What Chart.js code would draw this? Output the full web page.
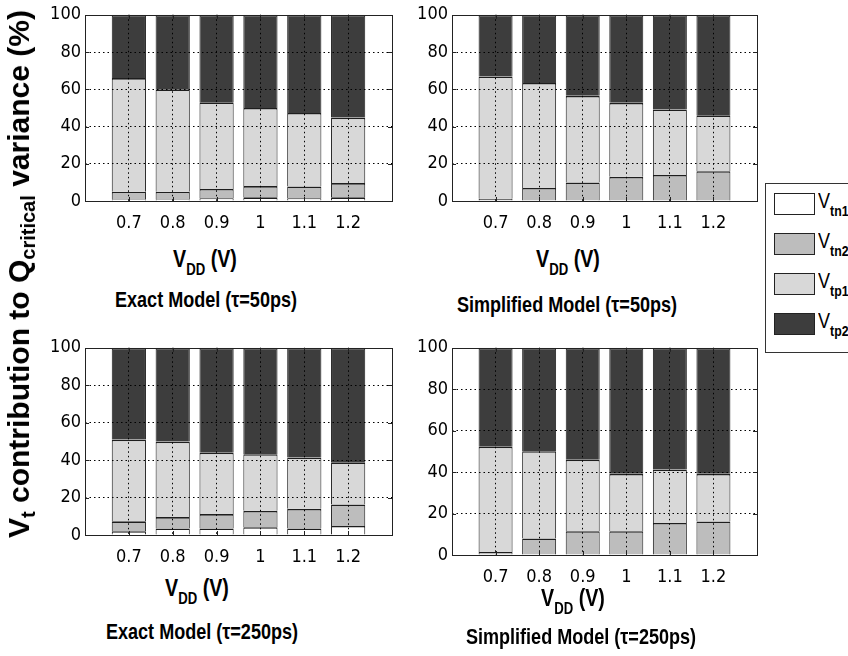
<!DOCTYPE html>
<html>
<head>
<meta charset="utf-8">
<script src="https://cdn.jsdelivr.net/npm/chart.js@4/dist/chart.umd.min.js"></script>
<style>
  body { margin: 0; background: #fff; width: 848px; height: 656px; position: relative; overflow: hidden; }
  canvas { position: absolute; }
  .lbl { position: absolute; transform: translate(-50%, -50%) scaleX(0.82); white-space: nowrap;
         font-family: 'Liberation Sans', Arial, sans-serif; font-weight: bold; color: #000; }
  .vdd { font-size: 24px; }
  .vdd sub { font-size: 16px; vertical-align: -8px; }
  .ttl { font-size: 22px; }
  #ylab { position: absolute; left: 21px; top: 274px; transform: translate(-50%, -50%) rotate(-90deg);
          white-space: nowrap; font-family: 'Liberation Sans', Arial, sans-serif; font-weight: bold; font-size: 30px; }
  #ylab sub { font-size: 20px; vertical-align: -6px; }
  #legend { position: absolute; left: 765px; top: 183px; width: 90px; height: 168px; border: 1px solid #333; background: #fff; }
  .item { position: absolute; left: 8px; height: 22px; }
  .sw { position: absolute; left: 0; top: 0; width: 39px; height: 20px; border: 1px solid #222; }
  .itxt { position: absolute; left: 44px; top: -5px; font-family: 'Liberation Sans', Arial, sans-serif;
          font-size: 22px; white-space: nowrap; transform: scaleX(0.82); transform-origin: left top; }
  .itxt sub { font-size: 15px; vertical-align: -8px; font-weight: bold; }
</style>
</head>
<body>
<canvas id="c1" width="361" height="231" style="left:35px; top:0px;"></canvas>
<canvas id="c2" width="359" height="231" style="left:402px; top:0px;"></canvas>
<canvas id="c3" width="361" height="232" style="left:35px; top:333px;"></canvas>
<canvas id="c4" width="359" height="252" style="left:402px; top:333px;"></canvas>

<div id="ylab">V<sub>t</sub> contribution to Q<sub>critical</sub> variance (%)</div>

<div class="lbl vdd" style="left:205px; top:262px;">V<sub>DD</sub> (V)</div>
<div class="lbl ttl" style="left:206px; top:300px;">Exact Model (τ=50ps)</div>
<div class="lbl vdd" style="left:568px; top:262px;">V<sub>DD</sub> (V)</div>
<div class="lbl ttl" style="left:567px; top:305px;">Simplified Model (τ=50ps)</div>
<div class="lbl vdd" style="left:197px; top:591px;">V<sub>DD</sub> (V)</div>
<div class="lbl ttl" style="left:202px; top:632px;">Exact Model (τ=250ps)</div>
<div class="lbl vdd" style="left:573px; top:601px;">V<sub>DD</sub> (V)</div>
<div class="lbl ttl" style="left:581px; top:637px;">Simplified Model (τ=250ps)</div>

<div id="legend"></div>

<script>
// supply voltage (V) on the x axis
const vdd = [0.7, 0.8, 0.9, 1, 1.1, 1.2];
const yTicks = [0, 20, 40, 60, 80, 100];

const seriesNames = ['tn1', 'tn2', 'tp1', 'tp2'];
const seriesColors = ['#ffffff', '#bdbdbd', '#d8d8d8', '#3d3d3d'];

// Exact Model (tau = 50ps)
const exact50_tn1 = [1, 1, 1.5, 2, 1.5, 2];
const exact50_tn2 = [4, 4, 5, 6, 6.3, 7.6];
const exact50_tp1 = [61, 55, 46.5, 42, 39.5, 35.2];
const exact50_tp2 = [34, 40, 47, 50, 52.7, 55.2];

// Simplified Model (tau = 50ps)
const simp50_tn1 = [0, 0, 0, 0, 0, 0];
const simp50_tn2 = [1.2, 7, 10, 13, 14, 16];
const simp50_tp1 = [65.7, 56.4, 46.5, 39.7, 35.2, 30];
const simp50_tp2 = [33.1, 36.6, 43.5, 47.3, 50.8, 54];

// Exact Model (tau = 250ps)
const exact250_tn1 = [2, 3.5, 3.5, 4.2, 3.5, 4.8];
const exact250_tn2 = [5.3, 6.1, 7.7, 8.7, 10.5, 11.5];
const exact250_tp1 = [43.7, 40.3, 32.8, 30.3, 27.4, 22.5];
const exact250_tp2 = [49, 50.1, 56, 56.8, 58.6, 61.2];

// Simplified Model (tau = 250ps)
const simp250_tn1 = [0, 0, 0, 0, 0, 0];
const simp250_tn2 = [1.4, 8, 11.5, 11.5, 15.5, 16.2];
const simp250_tp1 = [50.9, 42.1, 34.5, 27.7, 25.8, 23];
const simp250_tp2 = [47.7, 49.9, 54, 60.8, 58.7, 60.8];

const tickFont = { family: "'DejaVu Sans Condensed', 'Liberation Sans', sans-serif", size: 18 };

// box round the plot and small inward ticks, matlab style
const boxPlugin = {
  id: 'box',
  afterDraw(chart) {
    const a = chart.chartArea, ctx = chart.ctx;
    ctx.save();
    ctx.strokeStyle = '#222';
    ctx.lineWidth = 1;
    ctx.strokeRect(Math.round(a.left) + 0.5, Math.round(a.top) + 0.5, Math.round(a.right - a.left), Math.round(a.bottom - a.top));
    ctx.beginPath();
    chart.scales.x.ticks.forEach(t => {
      const px = Math.round(chart.scales.x.getPixelForValue(t.value)) + 0.5;
      ctx.moveTo(px, a.bottom); ctx.lineTo(px, a.bottom - 4);
      ctx.moveTo(px, a.top); ctx.lineTo(px, a.top + 4);
    });
    chart.scales.y.ticks.forEach(t => {
      const py = Math.round(chart.scales.y.getPixelForValue(t.value)) + 0.5;
      ctx.moveTo(a.left, py); ctx.lineTo(a.left + 4, py);
      ctx.moveTo(a.right, py); ctx.lineTo(a.right - 4, py);
    });
    ctx.stroke();
    ctx.restore();
  }
};

function grafico(id, tn1, tn2, tp1, tp2) {
  const valores = [tn1, tn2, tp1, tp2];
  new Chart(document.getElementById(id), {
    type: 'bar',
    data: {
      labels: vdd,
      datasets: valores.map((d, i) => ({
        label: 'V' + seriesNames[i],
        data: d,
        backgroundColor: seriesColors[i],
        borderColor: '#1e1e1e',
        // only top + sides so stacked segments share one dividing line
        borderWidth: { top: 1.6, left: 1, right: 1, bottom: 0 },
        borderSkipped: false,
        barPercentage: 0.78,
        categoryPercentage: 1
      }))
    },
    options: {
      responsive: false,
      animation: false,
      layout: { padding: { top: 14, right: 4, left: 0, bottom: 0 } },
      plugins: { legend: { display: false }, tooltip: { enabled: false } },
      scales: {
        x: {
          type: 'linear',
          stacked: true,
          offset: false,
          min: 0.6,
          max: 1.3,
          afterBuildTicks: s => { s.ticks = vdd.map(v => ({ value: v })); },
          afterFit: s => { s.height = 30; },
          ticks: { font: tickFont, color: '#000', padding: 12, maxRotation: 0, callback: v => String(v) },
          grid: { z: 1, offset: false, color: '#000', lineWidth: 1, drawTicks: false },
          border: { display: false, dash: [1.5, 3] }
        },
        y: {
          stacked: true,
          min: 0,
          max: 100,
          afterBuildTicks: s => { s.ticks = yTicks.map(v => ({ value: v })); },
          afterFit: s => { s.width = 50; },
          ticks: { font: tickFont, color: '#000', padding: 4 },
          grid: { z: 1, drawTicks: false, lineWidth: 1,
                  color: c => (c.tick && (c.tick.value === 0 || c.tick.value === 100)) ? 'rgba(0,0,0,0)' : '#000' },
          border: { display: false, dash: [1.5, 3] }
        }
      }
    },
    plugins: [boxPlugin]
  });
}

grafico('c1', exact50_tn1, exact50_tn2, exact50_tp1, exact50_tp2);
grafico('c2', simp50_tn1, simp50_tn2, simp50_tp1, simp50_tp2);
grafico('c3', exact250_tn1, exact250_tn2, exact250_tp1, exact250_tp2);
grafico('c4', simp250_tn1, simp250_tn2, simp250_tp1, simp250_tp2);

// legend
const leyenda = document.getElementById('legend');
const legendTops = [9, 49, 89, 129];
seriesNames.forEach((n, i) => {
  const it = document.createElement('div');
  it.className = 'item';
  it.style.top = legendTops[i] + 'px';
  it.innerHTML = '<div class="sw" style="background:' + seriesColors[i] + '"></div>' +
                 '<div class="itxt">V<sub>' + n + '</sub></div>';
  leyenda.appendChild(it);
});
</script>
</body>
</html>
